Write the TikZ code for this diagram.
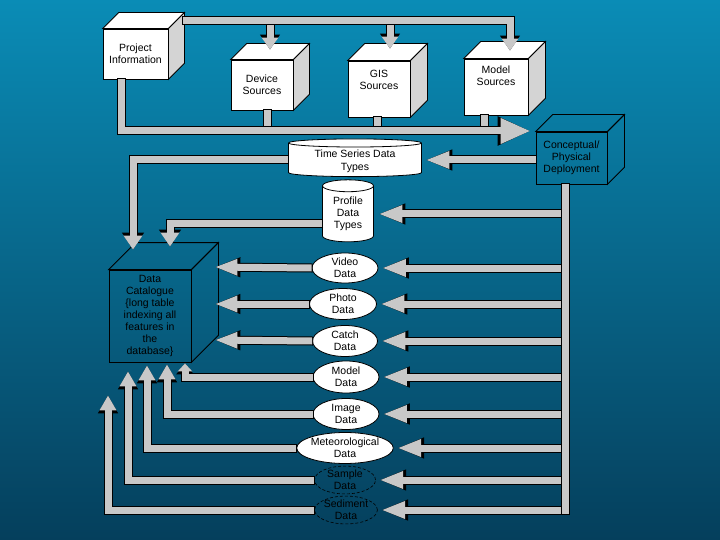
\documentclass[tikz,border=0pt]{standalone}
\usepackage{fontspec}
\setmainfont{Liberation Sans}
\usetikzlibrary{shapes.geometric,arrows.meta,calc}
\definecolor{barg}{HTML}{C8C8C8}
\definecolor{sideg}{HTML}{D4D4D4}
\definecolor{bgtop}{HTML}{0A8CB6}
\definecolor{bgbot}{HTML}{053F5C}
\tikzset{
  txt/.style={font=\fontsize{10.5}{12}\selectfont, align=center, text=black},
  face/.style={txt, draw=black, line width=0.8pt, inner sep=0pt},
  pipe/.style={line width=7pt, draw=barg, preaction={draw=black, line width=9pt, shorten <=-1pt, shorten >=-1pt}},
  arr/.style 2 args={line width=7pt, draw=barg, shorten >=1.4pt, -{Triangle[length=#1pt,width=#2pt]},
     preaction={draw=black, line width=9pt, shorten <=-1pt, -{Triangle[length=#1pt+3pt,width=#2pt+3pt]}}},
  ell/.style={ellipse, txt, draw=black, fill=white, inner sep=0pt, line width=0.8pt},
  dell/.style={ellipse, txt, draw=black, densely dashed, inner sep=0pt, line width=0.6pt},
  cyl/.style={cylinder, shape border rotate=90, draw=black, fill=white, txt, inner sep=0pt, line width=0.8pt},
}
\newcommand\mycube[8]{%
  \node[face, #7, minimum width=#4, minimum height=#5] (#1) at (#2,#3) {#8};
  \draw[#7, line width=0.8pt] (#1.north west) -- ++(#6,-#6) -- ($(#1.north east)+(#6,-#6)$) -- (#1.north east) -- cycle;
  \draw[#7, line width=0.8pt, fill=sideg, fill opacity=\csname op#7\endcsname] (#1.north east) -- ++(#6,-#6) -- ($(#1.south east)+(#6,-#6)$) -- (#1.south east) -- cycle;
}
\newcommand\opwhitecube{1}
\newcommand\opclearcube{0}
\tikzset{whitecube/.style={fill=white}, clearcube/.style={}}
\begin{document}
\begin{tikzpicture}[x=1pt,y=-1pt]
\shade[top color=bgtop, bottom color=bgbot] (0,0) rectangle (720,540);
\useasboundingbox (0,0) rectangle (720,540);

% cubes
\mycube{proj}{135.5}{54}{65}{50}{16}{whitecube}{Project\\Information}
\mycube{dev}{262}{85}{62}{50}{16}{whitecube}{Device\\Sources}
\mycube{gis}{379}{89}{62}{56}{17}{whitecube}{GIS\\Sources\\[6pt]}
\mycube{mod}{496}{87}{64}{56}{17}{whitecube}{Model\\Sources\\[10pt]}
\mycube{con}{571.5}{158}{71}{52}{17}{clearcube}{Conceptual/\\Physical\\Deployment}
\mycube{dc}{150}{316}{82}{92}{27}{clearcube}{Data\\Catalogue\\\{long table\\indexing all\\features in\\the\\database\}}

% data nodes
\node[cyl, minimum width=133, minimum height=35, aspect=0.1] (ts) at (355,160) {\\[-2pt]Time Series Data\\[1pt]Types};
\node[cyl, minimum width=51, minimum height=62, aspect=0.4] (pr) at (348,214) {\\[-4pt]Profile\\Data\\Types};
\node[ell, minimum width=66, minimum height=30] (vid) at (345,268) {Video\\Data};
\node[ell, minimum width=67, minimum height=31] (pho) at (343,304) {Photo\\Data};
\node[ell, minimum width=65, minimum height=31] (cat) at (345,341) {Catch\\Data};
\node[ell, minimum width=66, minimum height=32] (mdl) at (346,377) {Model\\Data};
\node[ell, minimum width=66, minimum height=31] (img) at (346,414) {Image\\Data};
\node[ell, minimum width=77, minimum height=31] (met) at (345,448) {Meteorological\\Data};
\node[dell, minimum width=61, minimum height=26] (sam) at (345,480) {Sample\\Data};
\node[dell, minimum width=54, minimum height=26] (sed) at (346,510) {Sediment\\Data};

% top bar and arrows down
\coordinate (tb) at (183,21);
\draw[arr={12}{16}] (270,21) -- (270,51);
\draw[arr={12}{16}] (390,21) -- (390,50);
\draw[arr={12}{16}] (tb) -- (510,21) -- (510,52);

% bottom bar
\draw[pipe] (dev.south -| 267,0) -- (267,131);
\draw[pipe] (gis.south -| 377,0) -- (377,131);
\draw[pipe] (mod.south -| 484,0) -- (484,131);
\draw[arr={30}{24}] (proj.south -| 121,0) -- (121,131) -- (532,131);

% right side distribution
\coordinate (rv) at (565,0);
\draw[arr={24}{16}] (con.west |- ts.east) -- ([xshift=2pt]ts.east);
\foreach \n/\t in {pr/3,vid/2,pho/2,cat/2,mdl/2,img/2,met/2,sam/2,sed/2}
  \draw[arr={24}{16}] (rv |- \n.east) -- ([xshift=\t pt]\n.east);
\draw[pipe] (con.south -| rv) -- (565,514);

% left side into catalogue
\draw[arr={14}{18}] (ts.west) -| (133,251);
\draw[arr={14}{18}] ([yshift=-10pt]pr.west) -| (170,248);
\draw[arr={23}{15}] (vid.west) -- (213,267);
\draw[arr={23}{15}] (pho.west) -- (213,304);
\draw[arr={23}{15}] (cat.west) -- (213,340);
\draw[arr={8}{14}] (mdl.west) -| (185,362);
\draw[arr={15}{16}] (img.west) -| (167,363);
\draw[arr={15}{16}] (met.west) -| (147,364);
\draw[arr={15}{16}] (sam.west) -| (128,370);
\draw[arr={15}{16}] (sed.west) -| (108,394);
\end{tikzpicture}
\end{document}
